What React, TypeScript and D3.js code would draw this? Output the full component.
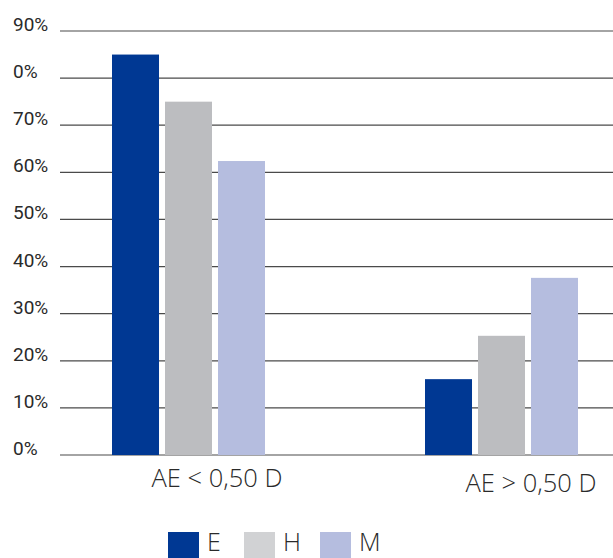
import React from "react";
import * as d3 from "d3";

const categories = ["AE < 0,50 D", "AE > 0,50 D"];
const seriesNames = ["E", "H", "M"];
const valuesE = [85, 16.1];
const valuesH = [75, 25.3];
const valuesM = [62.4, 37.6];
const tickValues = [0, 10, 20, 30, 40, 50, 60, 70, 80, 90];
const tickLabels = ["0%", "10%", "20%", "30%", "40%", "50%", "60%", "70%", "0%", "90%"];
const barColors = ["#003893", "#bcbdc0", "#b5bddf"];
const legendColors = ["#003893", "#d1d2d4", "#b5bddf"];

export default function App() {
  const W = 613, H = 558;
  const y = d3.scaleLinear().domain([0, 90]).range([455, 31]);
  const x0 = d3.scalePoint<string>().domain(categories).range([188.5, 501.5]);
  const x1 = d3.scaleBand<string>().domain(seriesNames).range([-76.5, 76.5]).paddingInner(0.113).paddingOuter(0);
  const series = [valuesE, valuesH, valuesM];
  const font = "'Open Sans', sans-serif";
  const labelY = [487, 492];
  const labelX = [217, 531];
  const legendX = [168, 244, 320];
  return (
    <svg width={W} height={H} style={{ position: "absolute", left: 0, top: 0, background: "#fff" }}>
      {tickValues.map((t, i) => (
        <g key={i}>
          <line x1={60} x2={613} y1={y(t)} y2={y(t)} stroke="#4a4a4a" strokeWidth={1.2} />
          <text x={13} y={y(t)} fontFamily="Roboto, sans-serif" fontSize={19} fill="#2a2a2a">
            {tickLabels[i]}
          </text>
        </g>
      ))}
      {categories.map((c, ci) =>
        seriesNames.map((s, si) => {
          const v = series[si][ci];
          const bx = (x0(c) as number) + (x1(s) as number);
          return (
            <rect key={c + s} x={bx} y={y(v)} width={x1.bandwidth()} height={y(0) - y(v)} fill={barColors[si]} />
          );
        })
      )}
      {categories.map((c, ci) => (
        <text key={c} x={labelX[ci]} y={labelY[ci]} textAnchor="middle" fontFamily={font} fontWeight={300} fontSize={25.5} fill="#2a2a2a">
          {c}
        </text>
      ))}
      {seriesNames.map((s, i) => (
        <g key={s}>
          <rect x={legendX[i]} y={532} width={31} height={26} fill={legendColors[i]} />
          <text x={legendX[i] + 39} y={551} fontFamily={font} fontWeight={300} fontSize={25} fill="#2a2a2a">
            {s}
          </text>
        </g>
      ))}
    </svg>
  );
}
